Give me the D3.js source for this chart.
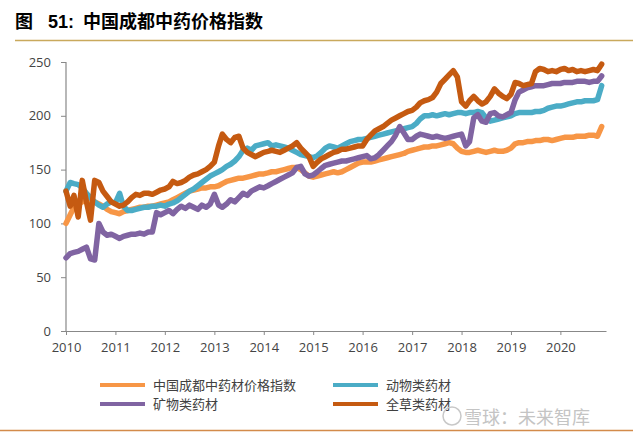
<!DOCTYPE html>
<html><head><meta charset="utf-8">
<script src="https://cdn.jsdelivr.net/npm/d3@7"></script>
<style>body{margin:0;background:#fff}svg{display:block}</style>
</head><body>
<svg id="c" width="640" height="437"></svg>
<script>
// monthly observations Jan 2010 .. Nov 2020
const startYear = 2010, startMonth = 0, nMonths = 131;
const months = d3.range(nMonths).map(i => new Date(startYear, startMonth + i, 1));
const seriesNames = ["中国成都中药材价格指数", "动物类药材", "矿物类药材", "全草类药材"];
const seriesColors = ["#F79646", "#4BACC6", "#8064A2", "#C55A11"];
const composite = [
  100,108,115,118,120,122,121,120,118,116,113,111,
  110,109,111,112,113,114,115,115,116,116,117,118,
  119,120,122,124,126,128,130,131,132,133,133,134,
  134,135,137,139,140,141,142,142,143,144,145,146,
  146,147,148,148,149,150,151,152,152,150,147,144,
  143,144,145,146,147,148,147,148,150,152,154,156,
  157,157,157,158,159,160,161,162,163,164,165,167,
  168,169,170,171,171,172,172,173,174,175,174,170,
  167,166,166,167,168,167,166,167,168,167,167,168,
  170,174,175,175,176,176,177,177,178,178,177,178,
  179,180,180,180,181,181,181,182,182,181,190];
const animal = [
  130,138,137,136,133,128,124,120,117,115,118,120,
  119,128,116,112,112,113,114,115,115,116,116,117,
  116,118,119,121,124,127,130,132,135,138,141,144,
  146,148,150,153,155,158,162,168,170,168,172,173,
  174,175,172,173,172,171,170,168,166,164,163,162,
  161,163,166,170,172,171,170,172,174,176,177,178,
  178,179,180,181,182,183,184,185,186,187,188,189,
  190,193,197,200,200,201,200,201,202,201,202,203,
  203,202,203,203,204,203,198,195,196,197,198,199,
  200,202,203,203,203,203,204,204,205,207,208,209,
  209,210,211,212,213,213,214,214,214,215,228];
const mineral = [
  68,72,73,74,76,78,67,66,100,92,89,90,
  88,86,88,89,90,90,91,90,92,92,110,108,
  110,112,109,113,116,114,117,115,113,117,115,118,
  127,117,115,118,122,120,124,128,126,130,132,134,
  133,135,137,139,141,143,145,147,152,153,146,144,
  145,148,151,154,155,156,157,158,158,159,160,161,
  162,163,160,161,164,168,172,176,182,190,184,178,
  178,181,183,182,181,180,181,180,179,180,181,182,
  183,172,176,198,201,195,194,202,203,200,199,201,
  203,215,222,224,226,227,228,228,228,229,230,230,
  230,231,231,231,232,232,232,231,232,232,237];
const herb = [
  130,116,126,106,140,120,103,140,138,130,125,120,
  118,116,117,120,124,127,126,128,128,127,129,131,
  132,134,139,137,138,140,143,145,146,148,150,153,
  157,172,183,178,175,180,181,170,166,164,162,164,
  166,167,168,167,166,168,170,172,175,170,166,162,
  153,157,160,162,164,166,167,169,169,170,171,172,
  172,178,182,186,188,190,193,196,198,200,202,204,
  205,208,212,214,215,217,222,230,234,238,242,236,
  213,209,214,218,214,211,213,218,225,221,218,216,
  220,231,230,228,229,230,241,244,243,241,242,241,
  243,244,242,243,241,242,241,242,243,242,248];
const yTicks = [0, 50, 100, 150, 200, 250];
const xTickYears = [2010,2011,2012,2013,2014,2015,2016,2017,2018,2019,2020];

const svg = d3.select("#c");
const x = d3.scaleTime().domain([new Date(2010,0,1), new Date(2020,11,3)]).range([66, 606]);
const y = d3.scaleLinear().domain([0, 250]).range([331, 62]);

// title
const cjk = "'Noto Sans CJK SC', sans-serif";
svg.append("text").attr("x", 15).attr("y", 28).attr("font-family", cjk)
  .attr("font-weight", "bold").attr("font-size", 18).text("图");
svg.append("text").attr("x", 48).attr("y", 28).attr("font-family", "'Liberation Sans', Arial, sans-serif")
  .attr("font-weight", "bold").attr("font-size", 18).text("51:");
svg.append("text").attr("x", 83).attr("y", 28).attr("font-family", cjk)
  .attr("font-weight", "bold").attr("font-size", 18).text("中国成都中药价格指数");
svg.append("line").attr("x1", 15).attr("x2", 633).attr("y1", 40.5).attr("y2", 40.5)
  .attr("stroke", "#c9a95c").attr("stroke-width", 1.5);

// axes
const yAxis = svg.append("g").attr("transform", "translate(66,0)")
  .call(d3.axisLeft(y).tickValues(yTicks).tickSize(5).tickPadding(10));
const xAxis = svg.append("g").attr("transform", "translate(0,331)")
  .call(d3.axisBottom(x).tickValues(xTickYears.map(v => new Date(v,0,1)))
    .tickFormat(d3.timeFormat("%Y")).tickSize(4).tickPadding(8).tickSizeOuter(0));
[yAxis, xAxis].forEach(a => {
  a.select(".domain").attr("stroke", "#888").attr("stroke-width", 1.2);
  a.selectAll(".tick line").attr("stroke", "#888");
  a.selectAll(".tick text").attr("fill", "#444").attr("font-size", 13)
    .attr("font-family", "'Open Sans', 'Liberation Sans', sans-serif");
});
yAxis.select(".domain").attr("d", "M0,331V62");

// lines
const allSeries = [composite, animal, mineral, herb];
const line = d3.line().x((d, i) => x(months[i])).y(d => y(d)).curve(d3.curveLinear);
allSeries.forEach((s, k) => {
  svg.append("path").datum(s).attr("d", line).attr("fill", "none")
    .attr("stroke", seriesColors[k]).attr("stroke-width", 5.5)
    .attr("stroke-linejoin", "round").attr("stroke-linecap", "round");
});

// legend
const legPos = [[100, 385], [333, 385], [100, 404], [333, 404]];
seriesNames.forEach((n, k) => {
  const [lx, ly] = legPos[k];
  svg.append("line").attr("x1", lx).attr("x2", lx + 45).attr("y1", ly).attr("y2", ly)
    .attr("stroke", seriesColors[k]).attr("stroke-width", 4);
  svg.append("text").attr("x", lx + 53).attr("y", ly + 5).text(n)
    .attr("font-family", cjk).attr("font-size", 13).attr("fill", "#404040");
});

// watermark
svg.append("circle").attr("cx", 452).attr("cy", 416).attr("r", 9)
  .attr("fill", "none").attr("stroke", "#c8c8c8").attr("stroke-width", 1.5);
svg.append("text").attr("x", 464).attr("y", 424).text("雪球：未来智库")
  .attr("font-family", cjk).attr("font-size", 18).attr("fill", "#c4c4c4");

svg.append("line").attr("x1", 0).attr("x2", 633).attr("y1", 430.5).attr("y2", 430.5)
  .attr("stroke", "#d38b4a").attr("stroke-width", 1.5);
</script>
</body></html>
